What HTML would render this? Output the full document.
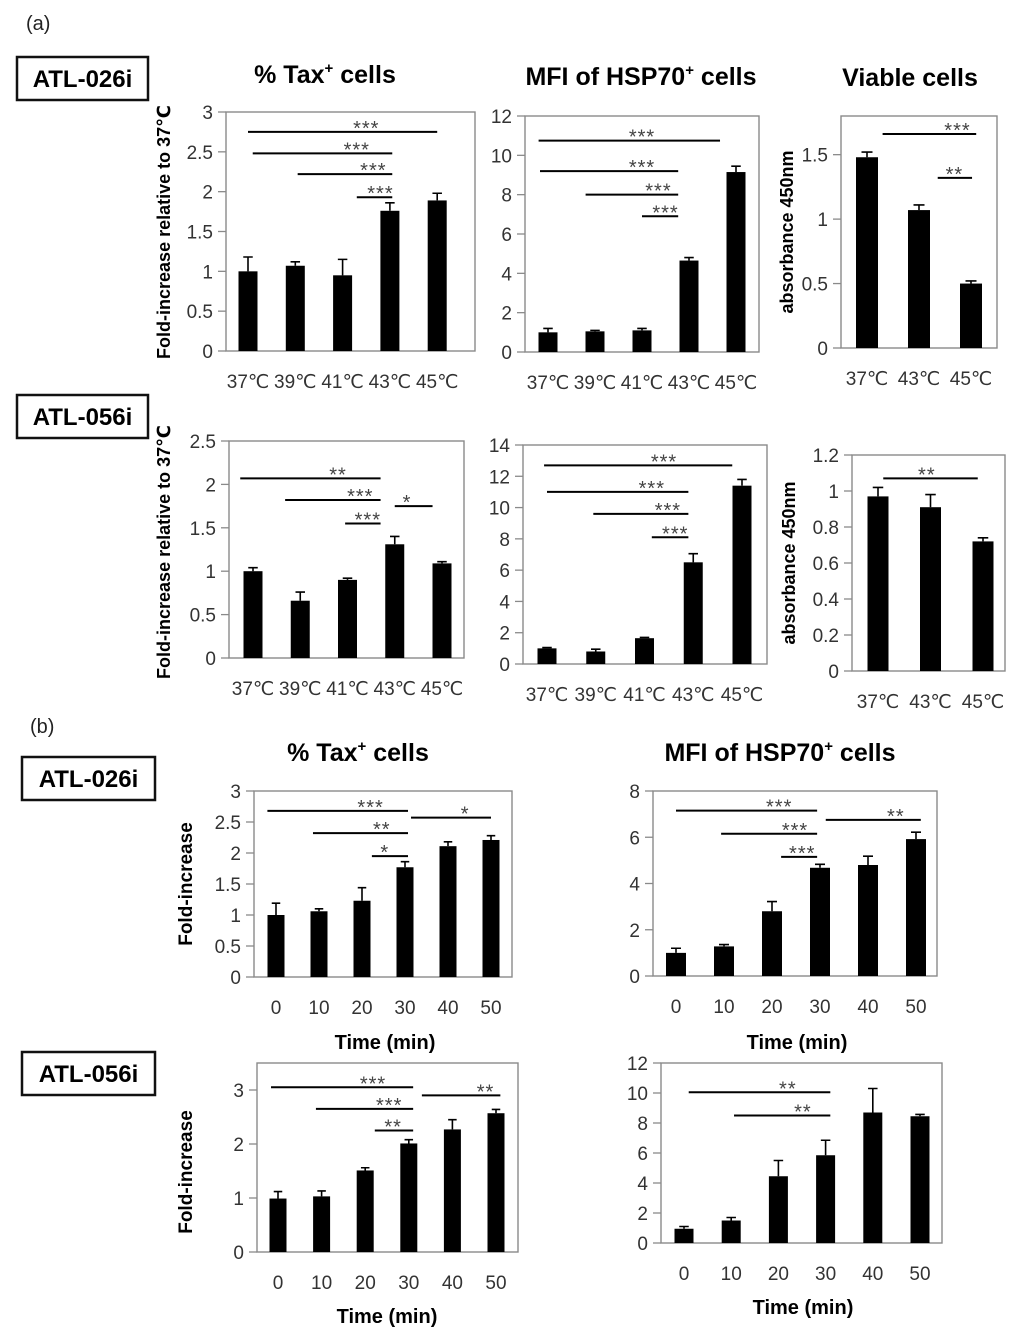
<!DOCTYPE html>
<html><head><meta charset="utf-8"><style>
html,body{margin:0;padding:0;background:#fff;}
svg{display:block;font-family:"Liberation Sans","DejaVu Sans","Noto Sans CJK JP",sans-serif;}
</style></head><body>
<svg id="fig" width="1024" height="1337" viewBox="0 0 1024 1337" xmlns="http://www.w3.org/2000/svg">
<text x="26" y="30" font-size="20" fill="#222">(a)</text>
<text x="30" y="733" font-size="20" fill="#222">(b)</text>
<g><rect x="17" y="57" width="131" height="43" fill="#fff" stroke="#111" stroke-width="2.5"/><text x="82.5" y="87" font-size="24" font-weight="bold" text-anchor="middle">ATL-026i</text></g>
<g><rect x="17" y="395" width="131" height="43" fill="#fff" stroke="#111" stroke-width="2.5"/><text x="82.5" y="425" font-size="24" font-weight="bold" text-anchor="middle">ATL-056i</text></g>
<g><rect x="22" y="757" width="133" height="43" fill="#fff" stroke="#111" stroke-width="2.5"/><text x="88.5" y="787" font-size="24" font-weight="bold" text-anchor="middle">ATL-026i</text></g>
<g><rect x="22" y="1052" width="133" height="43" fill="#fff" stroke="#111" stroke-width="2.5"/><text x="88.5" y="1082" font-size="24" font-weight="bold" text-anchor="middle">ATL-056i</text></g>
<text x="325" y="83" font-size="25" font-weight="bold" text-anchor="middle">% Tax<tspan font-size="15" dy="-10">+</tspan><tspan dy="10"> cells</tspan></text>
<text x="641" y="85" font-size="25" font-weight="bold" text-anchor="middle">MFI of HSP70<tspan font-size="15" dy="-10">+</tspan><tspan dy="10"> cells</tspan></text>
<text x="910" y="86" font-size="25" font-weight="bold" text-anchor="middle">Viable cells</text>
<text x="358" y="761" font-size="25" font-weight="bold" text-anchor="middle">% Tax<tspan font-size="15" dy="-10">+</tspan><tspan dy="10"> cells</tspan></text>
<text x="780" y="761" font-size="25" font-weight="bold" text-anchor="middle">MFI of HSP70<tspan font-size="15" dy="-10">+</tspan><tspan dy="10"> cells</tspan></text>
</svg>
<script>
const tempCats5 = ["37℃","39℃","41℃","43℃","45℃"];
const tempCats3 = ["37℃","43℃","45℃"];
const timeCats = ["0","10","20","30","40","50"];

const a1c1Values = [1.0,1.07,0.95,1.76,1.89];
const a1c1Errors = [0.18,0.05,0.2,0.1,0.09];
const a1c1Ticks = [0,0.5,1,1.5,2,2.5,3];
const a1c1Sig = [[0,4,2.75,2.5,"***"],[0.1,3.05,2.48,2.3,"***"],[1.05,3.05,2.22,2.65,"***"],[2.3,3.05,1.93,2.8,"***"]];

const a1c2Values = [1.0,1.05,1.1,4.65,9.15];
const a1c2Errors = [0.2,0.05,0.1,0.15,0.3];
const a1c2Ticks = [0,2,4,6,8,10,12];
const a1c2Sig = [[-0.2,3.66,10.75,2.0,"***"],[-0.17,2.77,9.2,2.0,"***"],[0.8,2.77,8.0,2.35,"***"],[2.0,2.77,6.9,2.5,"***"]];

const a1c3Values = [1.48,1.07,0.5];
const a1c3Errors = [0.04,0.04,0.02];
const a1c3Ticks = [0,0.5,1,1.5];
const a1c3Sig = [[0.3,2.1,1.66,1.74,"***"],[1.36,2.02,1.32,1.68,"**"]];

const a2c1Values = [1.0,0.66,0.9,1.31,1.09];
const a2c1Errors = [0.04,0.1,0.02,0.09,0.02];
const a2c1Ticks = [0,0.5,1,1.5,2,2.5];
const a2c1Sig = [[-0.27,2.7,2.07,1.8,"**"],[0.68,2.7,1.82,2.27,"***"],[1.95,2.7,1.55,2.43,"***"],[3.0,3.8,1.75,3.26,"*"]];

const a2c2Values = [1.0,0.8,1.65,6.5,11.4];
const a2c2Errors = [0.05,0.15,0.05,0.55,0.4];
const a2c2Ticks = [0,2,4,6,8,10,12,14];
const a2c2Sig = [[-0.06,3.8,12.7,2.4,"***"],[0,2.9,11.0,2.15,"***"],[0.95,2.9,9.6,2.48,"***"],[2.15,2.9,8.1,2.63,"***"]];

const a2c3Values = [0.97,0.91,0.72];
const a2c3Errors = [0.05,0.07,0.02];
const a2c3Ticks = [0,0.2,0.4,0.6,0.8,1,1.2];
const a2c3Sig = [[0.1,1.9,1.07,0.93,"**"]];

const b1c1Values = [1.0,1.06,1.23,1.77,2.11,2.21];
const b1c1Errors = [0.19,0.04,0.21,0.09,0.07,0.07];
const b1c1Ticks = [0,0.5,1,1.5,2,2.5,3];
const b1c1Sig = [[-0.2,3.07,2.68,2.2,"***"],[0.86,3.07,2.32,2.46,"**"],[2.23,3.07,1.95,2.53,"*"],[3.14,5,2.57,4.4,"*"]];

const b1c2Values = [1.0,1.28,2.8,4.68,4.8,5.92];
const b1c2Errors = [0.2,0.08,0.42,0.15,0.38,0.3];
const b1c2Ticks = [0,2,4,6,8];
const b1c2Sig = [[0,2.94,7.15,2.15,"***"],[0.94,2.94,6.15,2.48,"***"],[2.19,2.94,5.15,2.63,"***"],[3.12,5.1,6.75,4.58,"**"]];

const b2c1Values = [0.99,1.03,1.51,2.01,2.27,2.57];
const b2c1Errors = [0.13,0.1,0.05,0.07,0.18,0.07];
const b2c1Ticks = [0,1,2,3];
const b2c1Sig = [[-0.16,3.1,3.05,2.18,"***"],[0.87,3.1,2.65,2.55,"***"],[2.22,3.1,2.25,2.64,"**"],[3.3,5.1,2.9,4.76,"**"]];

const b2c2Values = [0.95,1.5,4.45,5.85,8.7,8.45];
const b2c2Errors = [0.15,0.2,1.05,1.0,1.6,0.12];
const b2c2Ticks = [0,2,4,6,8,10,12];
const b2c2Sig = [[0.1,3.1,10.05,2.2,"**"],[1.06,3.1,8.5,2.52,"**"]];

const NS = "http://www.w3.org/2000/svg";
const svg = document.getElementById('fig');
function mk(tag, attrs, parent){const e=document.createElementNS(NS,tag);for(const k in attrs)e.setAttribute(k,attrs[k]);(parent||svg).appendChild(e);return e;}

function drawChart(id, L, cats, values, errors, ticks, sig){
  const g = mk('g',{});
  
  
  const y = v => L.b - (v / L.ymax) * (L.b - L.t);
  const x = i => L.x0 + i * L.step;
  mk('rect',{x:L.l,y:L.t,width:L.r-L.l,height:L.b-L.t,fill:'none',stroke:'#8a8a8a','stroke-width':1.4},g);
  ticks.forEach(t=>{
    const ty=y(t);
    const tl=mk('line',{x1:L.l-8,x2:L.l,y1:ty,y2:ty,stroke:'#8a8a8a','stroke-width':1.3},g);
    
    
    const tt=mk('text',{x:L.l-13,y:ty+7,'font-size':19,fill:'#333','text-anchor':'end'},g);
    tt.textContent=String(t);
    
    
  });
  cats.forEach((c,i)=>{
    const cx=x(i), top=y(values[i]), et=y(values[i]+errors[i]);
    const bar=mk('rect',{x:cx-L.bw/2,y:top,width:L.bw,height:L.b-top,fill:'#000'},g);
    
    
    const eb=mk('path',{d:`M${cx},${top}V${et}M${cx-L.bw/4},${et}H${cx+L.bw/4}`,stroke:'#000','stroke-width':1.6,fill:'none'},g);
    
    
    const xl=mk('text',{x:cx,y:L.b+37,'font-size':19,fill:'#333','text-anchor':'middle'},g);
    xl.textContent=c;
    
    
  });
  sig.forEach(s=>{
    const sy=y(s[2]);
    const ln=mk('line',{x1:x(s[0]),x2:x(s[1]),y1:sy,y2:sy,stroke:'#000','stroke-width':2},g);
    
    
    const st=mk('text',{x:x(s[3]),y:sy+3,'font-size':20,fill:'#444','text-anchor':'middle','letter-spacing':'1'},g);
    st.textContent=s[4];
    
    
  });
  if(L.ytitle){
    const yt=mk('text',{x:L.yx,y:L.yy,'font-size':L.ytsize||17,'font-weight':'bold','text-anchor':'middle',transform:`rotate(-90 ${L.yx} ${L.yy})`},g);
    yt.textContent=L.ytitle;
    
    
  }
  if(L.xtitle){
    const xt=mk('text',{x:L.xx,y:L.xy,'font-size':20,'font-weight':'bold','text-anchor':'middle'},g);
    xt.textContent=L.xtitle;
    
    
  }
}

drawChart('chart-a-026-tax',{l:226,t:112,r:475,b:351,ymax:3,x0:248,step:47.3,bw:19,ytitle:'Fold-increase  relative to 37℃',yx:170,yy:232,ytsize:18},tempCats5,a1c1Values,a1c1Errors,a1c1Ticks,a1c1Sig);
drawChart('chart-a-026-hsp70',{l:525,t:116,r:759,b:352,ymax:12,x0:548,step:47,bw:19},tempCats5,a1c2Values,a1c2Errors,a1c2Ticks,a1c2Sig);
drawChart('chart-a-026-viable',{l:841,t:116,r:997,b:348,ymax:1.8,x0:867,step:52,bw:22,ytitle:'absorbance 450nm',yx:793,yy:232,ytsize:18},tempCats3,a1c3Values,a1c3Errors,a1c3Ticks,a1c3Sig);
drawChart('chart-a-056-tax',{l:229,t:441,r:464,b:658,ymax:2.5,x0:253,step:47.25,bw:19,ytitle:'Fold-increase  relative to  37℃',yx:170,yy:552,ytsize:18},tempCats5,a2c1Values,a2c1Errors,a2c1Ticks,a2c1Sig);
drawChart('chart-a-056-hsp70',{l:523,t:445,r:767,b:664,ymax:14,x0:547,step:48.75,bw:19},tempCats5,a2c2Values,a2c2Errors,a2c2Ticks,a2c2Sig);
drawChart('chart-a-056-viable',{l:852,t:455,r:1005,b:671,ymax:1.2,x0:878,step:52.5,bw:21,ytitle:'absorbance 450nm',yx:795,yy:563,ytsize:18},tempCats3,a2c3Values,a2c3Errors,a2c3Ticks,a2c3Sig);
drawChart('chart-b-026-tax',{l:254,t:791,r:512,b:977,ymax:3,x0:276,step:43,bw:17,ytitle:'Fold-increase',yx:192,yy:884,ytsize:19,xtitle:'Time (min)',xx:385,xy:1049},timeCats,b1c1Values,b1c1Errors,b1c1Ticks,b1c1Sig);
drawChart('chart-b-026-hsp70',{l:653,t:791,r:937,b:976,ymax:8,x0:676,step:48,bw:20,xtitle:'Time (min)',xx:797,xy:1049},timeCats,b1c2Values,b1c2Errors,b1c2Ticks,b1c2Sig);
drawChart('chart-b-056-tax',{l:257,t:1063,r:518,b:1252,ymax:3.5,x0:278,step:43.6,bw:17,ytitle:'Fold-increase',yx:192,yy:1172,ytsize:19,xtitle:'Time (min)',xx:387,xy:1323},timeCats,b2c1Values,b2c1Errors,b2c1Ticks,b2c1Sig);
drawChart('chart-b-056-hsp70',{l:661,t:1063,r:942,b:1243,ymax:12,x0:684,step:47.2,bw:19,xtitle:'Time (min)',xx:803,xy:1314},timeCats,b2c2Values,b2c2Errors,b2c2Ticks,b2c2Sig);
</script>
</body></html>
